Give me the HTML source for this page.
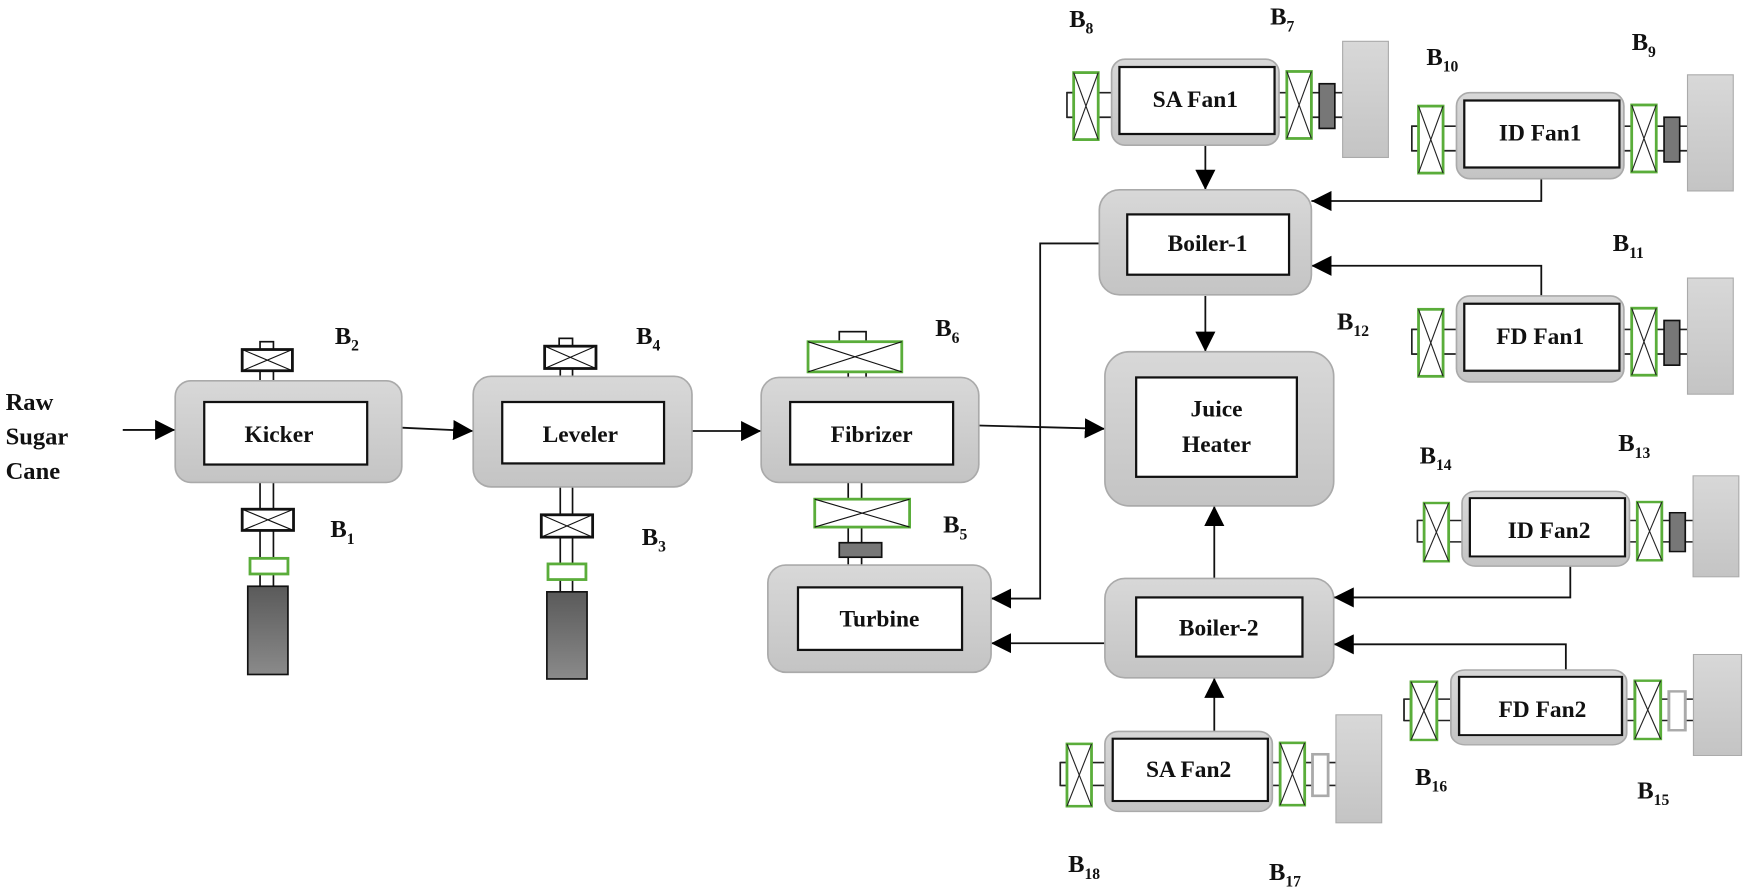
<!DOCTYPE html>
<html><head><meta charset="utf-8"><style>
html,body{margin:0;padding:0;background:#fff;}
svg{display:block;}
text{font-family:"Liberation Serif",serif;font-weight:bold;fill:#111;}
.lbl{font-size:22px;}
.b{font-size:21px;}
.s{font-size:14px;}
</style></head><body>
<svg width="1750" height="890" viewBox="0 0 1568 797" preserveAspectRatio="none" xmlns="http://www.w3.org/2000/svg">
<defs>
<marker id="ah" viewBox="0 0 10 10" refX="10" refY="5" markerWidth="18" markerHeight="18" markerUnits="userSpaceOnUse" orient="auto">
<path d="M0,0 L10,5 L0,10 z" fill="#000"/>
</marker>
<linearGradient id="gb" x1="0" y1="0" x2="0" y2="1"><stop offset="0" stop-color="#d8d8d8"/><stop offset="1" stop-color="#c4c4c4"/></linearGradient>
<linearGradient id="gm" x1="0" y1="0" x2="0" y2="1"><stop offset="0" stop-color="#5a5a5a"/><stop offset="1" stop-color="#8a8a8a"/></linearGradient>
<g id="fan">
  <line x1="-40" y1="30" x2="0" y2="30" stroke="#222" stroke-width="1.5"/>
  <line x1="-40" y1="52" x2="0" y2="52" stroke="#222" stroke-width="1.5"/>
  <rect x="-40" y="30" width="6" height="22" fill="#fff" stroke="#222" stroke-width="1.5"/>
  <rect x="-34" y="12" width="22" height="60" fill="#fff" stroke="#5aad3a" stroke-width="2.5"/>
  <line x1="-34" y1="12" x2="-12" y2="72" stroke="#222" stroke-width="1"/>
  <line x1="-12" y1="12" x2="-34" y2="72" stroke="#222" stroke-width="1"/>
  <line x1="150" y1="30" x2="207" y2="30" stroke="#222" stroke-width="1.5"/>
  <line x1="150" y1="52" x2="207" y2="52" stroke="#222" stroke-width="1.5"/>
  <rect x="157" y="11" width="22" height="60" fill="#fff" stroke="#5aad3a" stroke-width="2.5"/>
  <line x1="157" y1="11" x2="179" y2="71" stroke="#222" stroke-width="1"/>
  <line x1="179" y1="11" x2="157" y2="71" stroke="#222" stroke-width="1"/>
  <rect x="0" y="0" width="150" height="77" rx="12" fill="url(#gb)" stroke="#aaa" stroke-width="1.5"/>
  <rect x="7" y="7" width="139" height="60" fill="#fff" stroke="#111" stroke-width="2"/>
  <rect x="207" y="-16" width="41" height="104" fill="url(#gb)" stroke="#aaa" stroke-width="1"/>
</g>
<g id="cpd"><rect x="186" y="22" width="14" height="40" fill="#777" stroke="#111" stroke-width="1.5"/></g>
<g id="cpw"><rect x="186" y="22" width="14" height="40" fill="#fff" stroke="#aaa" stroke-width="2.5"/></g>
</defs>

<!-- Raw sugar cane -->
<text class="lbl" x="5" y="367">Raw</text>
<text class="lbl" x="5" y="398">Sugar</text>
<text class="lbl" x="5" y="429">Cane</text>

<!-- connectors main line -->
<g stroke="#111" stroke-width="1.6" fill="none">
<line x1="110" y1="385" x2="157" y2="385" marker-end="url(#ah)"/>
<line x1="360" y1="383" x2="424" y2="386" marker-end="url(#ah)"/>
<line x1="620" y1="386" x2="682" y2="386" marker-end="url(#ah)"/>
<line x1="877" y1="381" x2="990" y2="384" marker-end="url(#ah)"/>
<polyline points="985,218 932,218 932,536 888,536" marker-end="url(#ah)"/>
<line x1="990" y1="576" x2="888" y2="576" marker-end="url(#ah)"/>
<line x1="1080" y1="130" x2="1080" y2="170" marker-end="url(#ah)"/>
<line x1="1080" y1="265" x2="1080" y2="315" marker-end="url(#ah)"/>
<polyline points="1381,153 1381,180 1175,180" marker-end="url(#ah)"/>
<polyline points="1381,265 1381,238 1175,238" marker-end="url(#ah)"/>
<line x1="1088" y1="518" x2="1088" y2="453" marker-end="url(#ah)"/>
<polyline points="1407,505 1407,535 1195,535" marker-end="url(#ah)"/>
<polyline points="1403,600 1403,577 1195,577" marker-end="url(#ah)"/>
<line x1="1088" y1="655" x2="1088" y2="607" marker-end="url(#ah)"/>
</g>

<!-- Kicker assembly -->
<g stroke="#111" stroke-width="1.5">
<line x1="233" y1="332" x2="233" y2="341"/><line x1="245" y1="332" x2="245" y2="341"/>
<line x1="233" y1="432" x2="233" y2="525"/><line x1="245" y1="432" x2="245" y2="525"/>
<rect x="233" y="306" width="12" height="7" fill="#fff"/>
<rect x="217" y="313" width="45" height="19" fill="#fff" stroke-width="2.5"/>
<line x1="217" y1="313" x2="262" y2="332" stroke-width="1"/><line x1="262" y1="313" x2="217" y2="332" stroke-width="1"/>
<rect x="217" y="456" width="46" height="19" fill="#fff" stroke-width="2.5"/>
<line x1="217" y1="456" x2="263" y2="475" stroke-width="1"/><line x1="263" y1="456" x2="217" y2="475" stroke-width="1"/>
<rect x="224" y="500" width="34" height="14" fill="#fff" stroke="#5aad3a" stroke-width="2.5"/>
<rect x="222" y="525" width="36" height="79" fill="url(#gm)"/>
</g>
<rect x="157" y="341" width="203" height="91" rx="14" fill="url(#gb)" stroke="#aaa" stroke-width="1.5"/>
<rect x="183" y="360" width="146" height="56" fill="#fff" stroke="#111" stroke-width="2"/>
<text class="b" x="250" y="396" text-anchor="middle">Kicker</text>

<!-- Leveler assembly -->
<g stroke="#111" stroke-width="1.5">
<line x1="502" y1="330" x2="502" y2="337"/><line x1="513" y1="330" x2="513" y2="337"/>
<line x1="502" y1="436" x2="502" y2="530"/><line x1="513" y1="436" x2="513" y2="530"/>
<rect x="501" y="303" width="12" height="7" fill="#fff"/>
<rect x="488" y="310" width="46" height="20" fill="#fff" stroke-width="2.5"/>
<line x1="488" y1="310" x2="534" y2="330" stroke-width="1"/><line x1="534" y1="310" x2="488" y2="330" stroke-width="1"/>
<rect x="485" y="461" width="46" height="20" fill="#fff" stroke-width="2.5"/>
<line x1="485" y1="461" x2="531" y2="481" stroke-width="1"/><line x1="531" y1="461" x2="485" y2="481" stroke-width="1"/>
<rect x="491" y="505" width="34" height="14" fill="#fff" stroke="#5aad3a" stroke-width="2.5"/>
<rect x="490" y="530" width="36" height="78" fill="url(#gm)"/>
</g>
<rect x="424" y="337" width="196" height="99" rx="16" fill="url(#gb)" stroke="#aaa" stroke-width="1.5"/>
<rect x="450" y="360" width="145" height="55" fill="#fff" stroke="#111" stroke-width="2"/>
<text class="b" x="520" y="396" text-anchor="middle">Leveler</text>

<!-- Fibrizer assembly -->
<g stroke="#111" stroke-width="1.5">
<line x1="760" y1="333" x2="760" y2="338"/><line x1="776" y1="333" x2="776" y2="338"/>
<line x1="760" y1="432" x2="760" y2="506"/><line x1="772" y1="432" x2="772" y2="506"/>
<rect x="752" y="297" width="24" height="9" fill="#fff"/>
<rect x="724" y="306" width="84" height="27" fill="#fff" stroke="#5aad3a" stroke-width="2.5"/>
<line x1="724" y1="306" x2="808" y2="333" stroke-width="1"/><line x1="808" y1="306" x2="724" y2="333" stroke-width="1"/>
<rect x="730" y="447" width="85" height="25" fill="#fff" stroke="#5aad3a" stroke-width="2.5"/>
<line x1="730" y1="447" x2="815" y2="472" stroke-width="1"/><line x1="815" y1="447" x2="730" y2="472" stroke-width="1"/>
<rect x="752" y="486" width="38" height="13" fill="#777"/>
</g>
<rect x="682" y="338" width="195" height="94" rx="16" fill="url(#gb)" stroke="#aaa" stroke-width="1.5"/>
<rect x="708" y="360" width="146" height="56" fill="#fff" stroke="#111" stroke-width="2"/>
<text class="b" x="781" y="396" text-anchor="middle">Fibrizer</text>

<!-- Turbine -->
<rect x="688" y="506" width="200" height="96" rx="16" fill="url(#gb)" stroke="#aaa" stroke-width="1.5"/>
<rect x="715" y="526" width="147" height="56" fill="#fff" stroke="#111" stroke-width="2"/>
<text class="b" x="788" y="561" text-anchor="middle">Turbine</text>

<!-- Juice Heater -->
<rect x="990" y="315" width="205" height="138" rx="22" fill="url(#gb)" stroke="#aaa" stroke-width="1.5"/>
<rect x="1018" y="338" width="144" height="89" fill="#fff" stroke="#111" stroke-width="2"/>
<text class="b" x="1090" y="373" text-anchor="middle">Juice</text>
<text class="b" x="1090" y="405" text-anchor="middle">Heater</text>

<!-- Boiler-1 -->
<rect x="985" y="170" width="190" height="94" rx="18" fill="url(#gb)" stroke="#aaa" stroke-width="1.5"/>
<rect x="1010" y="192" width="145" height="54" fill="#fff" stroke="#111" stroke-width="2"/>
<text class="b" x="1082" y="225" text-anchor="middle">Boiler-1</text>

<!-- Boiler-2 -->
<rect x="990" y="518" width="205" height="89" rx="18" fill="url(#gb)" stroke="#aaa" stroke-width="1.5"/>
<rect x="1018" y="535" width="149" height="53" fill="#fff" stroke="#111" stroke-width="2"/>
<text class="b" x="1092" y="569" text-anchor="middle">Boiler-2</text>

<!-- Fans -->
<g transform="translate(996,53)"><use href="#fan"/><use href="#cpd"/><text class="b" x="75" y="43" text-anchor="middle">SA Fan1</text></g>
<g transform="translate(1305,83)"><use href="#fan"/><use href="#cpd"/><text class="b" x="75" y="43" text-anchor="middle">ID Fan1</text></g>
<g transform="translate(1305,265)"><use href="#fan"/><use href="#cpd"/><text class="b" x="75" y="43" text-anchor="middle">FD Fan1</text></g>
<g transform="translate(1310,440) scale(1,0.87)"><use href="#fan"/><use href="#cpd"/></g>
<text class="b" x="1388" y="482" text-anchor="middle">ID Fan2</text>
<g transform="translate(1300,600) scale(1.05,0.87)"><use href="#fan"/><use href="#cpw"/></g>
<text class="b" x="1382" y="642" text-anchor="middle">FD Fan2</text>
<g transform="translate(990,655) scale(1,0.93)"><use href="#fan"/><use href="#cpw"/></g>
<text class="b" x="1065" y="696" text-anchor="middle">SA Fan2</text>

<!-- Bearing labels -->
<text class="lbl" x="300" y="308">B<tspan class="s" dy="6">2</tspan></text>
<text class="lbl" x="296" y="481">B<tspan class="s" dy="6">1</tspan></text>
<text class="lbl" x="570" y="308">B<tspan class="s" dy="6">4</tspan></text>
<text class="lbl" x="575" y="488">B<tspan class="s" dy="6">3</tspan></text>
<text class="lbl" x="838" y="301">B<tspan class="s" dy="6">6</tspan></text>
<text class="lbl" x="845" y="477">B<tspan class="s" dy="6">5</tspan></text>
<text class="lbl" x="958" y="24">B<tspan class="s" dy="6">8</tspan></text>
<text class="lbl" x="1138" y="22">B<tspan class="s" dy="6">7</tspan></text>
<text class="lbl" x="1278" y="58">B<tspan class="s" dy="6">10</tspan></text>
<text class="lbl" x="1462" y="45">B<tspan class="s" dy="6">9</tspan></text>
<text class="lbl" x="1445" y="225">B<tspan class="s" dy="6">11</tspan></text>
<text class="lbl" x="1198" y="295">B<tspan class="s" dy="6">12</tspan></text>
<text class="lbl" x="1272" y="415">B<tspan class="s" dy="6">14</tspan></text>
<text class="lbl" x="1450" y="404">B<tspan class="s" dy="6">13</tspan></text>
<text class="lbl" x="1268" y="703">B<tspan class="s" dy="6">16</tspan></text>
<text class="lbl" x="1467" y="715">B<tspan class="s" dy="6">15</tspan></text>
<text class="lbl" x="957" y="781">B<tspan class="s" dy="6">18</tspan></text>
<text class="lbl" x="1137" y="788">B<tspan class="s" dy="6">17</tspan></text>
</svg>
</body></html>
